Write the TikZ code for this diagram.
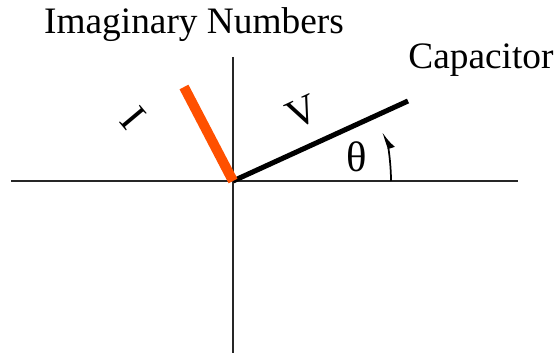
\documentclass[tikz,border=0pt]{standalone}
\usepackage{fontspec}
\setmainfont{Liberation Serif}
\usepackage{xcolor}
\usetikzlibrary{arrows.meta}
\definecolor{phasororange}{RGB}{255,80,0}
\tikzset{
  axis/.style={line width=1.4pt, black!85},
  phasor/.style={line width=3.8pt, black},
  current/.style={line width=7.5pt, phasororange},
  lbl/.style={font=\fontsize{28}{32}\selectfont, inner sep=0pt},
  anglearr/.style={line width=1.3pt, -{Latex[harpoon, swap, length=11pt, width=10pt]}},
}

\begin{document}
\begin{tikzpicture}[x=0.75pt, y=-0.75pt]
  \useasboundingbox (0,0) rectangle (558,353);

  % Axes
  \coordinate (O) at (233,181);
  \coordinate (xl) at (11,181);
  \coordinate (xr) at (518,181);
  \coordinate (yt) at (233,57);
  \coordinate (yb) at (233,353);
  \draw[axis] (xl) -- (xr);
  \draw[axis] (yt) -- (yb);

  % Phasors
  \coordinate (Vtip) at (408,101);
  \coordinate (Itip) at (184,87);
  \draw[phasor] (O) -- (Vtip);
  \draw[current] (O) -- (Itip);

  % Angle arrow
  \coordinate (a0) at (391,181);
  \draw[anglearr] (a0) arc[start angle=0, end angle=-18, radius=158];

  % Labels
  \node[lbl, anchor=base] at (194,34) (imag) {Imaginary Numbers};
  \node[lbl, anchor=base] at (481,69) (cap) {Capacitor};
  \node[lbl, rotate=25, font=\fontsize{31}{34}\selectfont] at (302,112) (vlbl) {V};
  \node[lbl, rotate=-50, font=\fontsize{31}{34}\selectfont] at (133,118) (ilbl) {I};
  \node[lbl, font=\fontsize{32}{34}\selectfont] at (357,157) (theta) {θ};
\end{tikzpicture}
\end{document}
